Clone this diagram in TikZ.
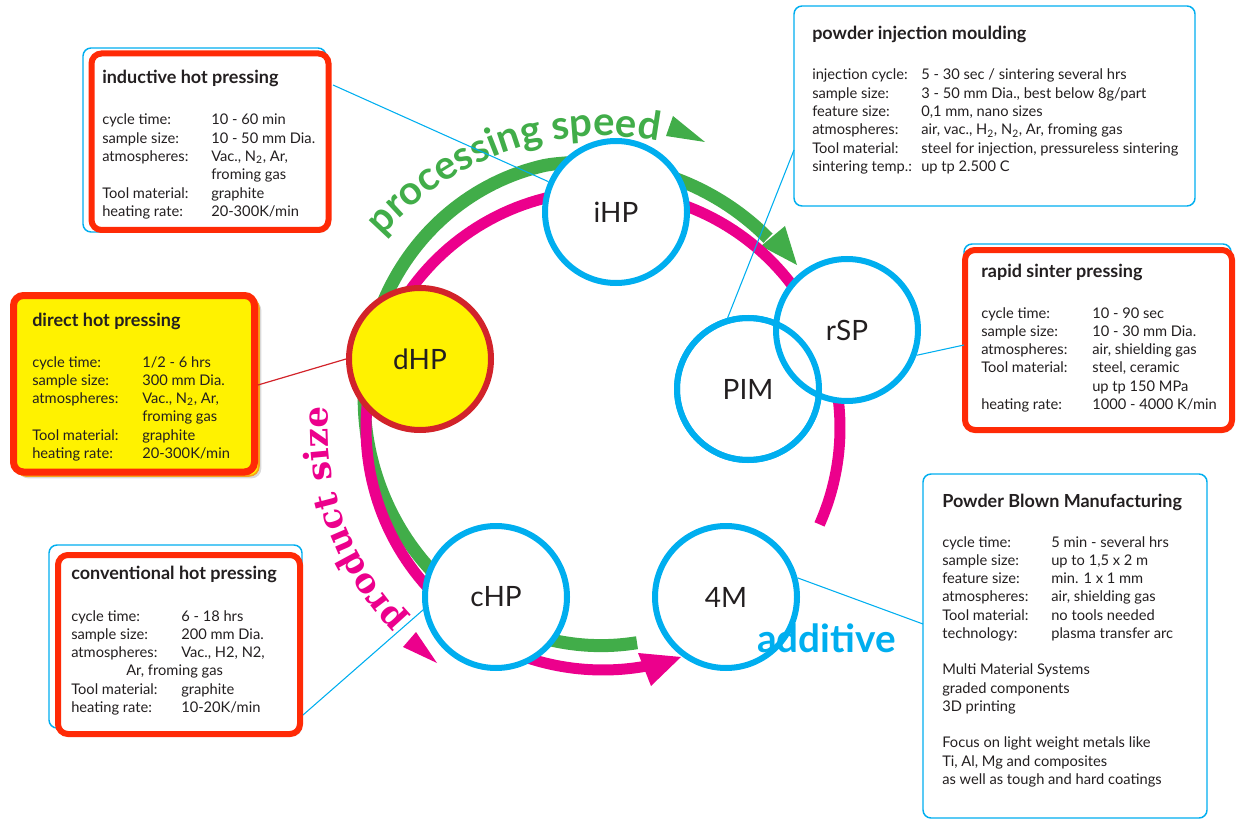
\documentclass[tikz,border=0pt]{standalone}
\usepackage{fontspec}
\setmainfont{Lato}
\newfontfamily\slabfont{DejaVu Serif}
\usetikzlibrary{decorations.text,fit,shadows}
\definecolor{cy}{HTML}{00AEEF}
\definecolor{gr}{HTML}{41AD49}
\definecolor{mg}{HTML}{EC008C}
\definecolor{rd}{HTML}{FF2A06}
\definecolor{drd}{HTML}{D2232A}
\definecolor{yl}{HTML}{FFF200}
\definecolor{ink}{HTML}{231F20}
\definecolor{org}{HTML}{F7A21B}
\begin{document}
\begin{tikzpicture}[x=0.75pt,y=-0.75pt,
  declare function={grr(\t)=(\t<258)*(217+52*exp(-1*((\t-258)/80)*((\t-258)/80))) + (\t>=258)*(269-0.33*(\t-258));},
  proc/.style={circle, draw=cy, line width=4.5pt, fill=white, minimum size=106.5pt, inner sep=0pt, font=\fontsize{21}{25}\selectfont, text=ink},
  redbox/.style={draw=rd, line width=4.5pt, rounded corners=7.5pt, fill=white, inner sep=0pt,
     drop shadow={shadow xshift=1.8pt, shadow yshift=-1.8pt, opacity=.3}},
  cybox/.style={draw=cy, line width=1.1pt, rounded corners=6pt, inner sep=0pt},
  ttl/.style={anchor=base west, inner sep=0pt, font=\bfseries\fontsize{13.5}{16}\selectfont, text=ink},
  tbl/.style={anchor=base west, inner sep=0pt, font=\fontsize{11}{13.7}\selectfont, text=ink},
  link/.style={draw=cy, line width=0.8pt},
  grarc/.style={draw=gr, line width=9.75pt},
  mgarc/.style={draw=mg, line width=8.25pt}]
\useasboundingbox (0,0) rectangle (1239,820);

% ---------- boxes ----------
\node[cybox, fit={(83,48) (326,232)}] (box1b) {};
\node[redbox, fit={(91.5,53.5) (328.5,230)}] (box1) {};
\node[draw=org, line width=1.2pt, rounded corners=7.5pt, fill=yl, inner sep=0pt, fit={(16,298) (259,476)},
     drop shadow={shadow xshift=1.8pt, shadow yshift=-1.8pt, opacity=.3}] (box2b) {};
\node[redbox, fill=yl, line width=5.25pt, drop shadow={opacity=0}, fit={(13.5,295.5) (254.5,472)}] (box2) {};
\node[cybox, fit={(49,545) (302,728)}] (box3b) {};
\node[redbox, fit={(58,555) (300,734)}] (box3) {};
\node[cybox, fit={(794,6) (1195,206)}] (box4) {};
\node[cybox, fit={(964,244) (1231,427)}] (box5b) {};
\node[redbox, fit={(965,250) (1232,430)}] (box5) {};
\node[cybox, fit={(923,474) (1207,818)}] (box6) {};

% ---------- box texts ----------
\node[ttl] (t1) at (102,84) {inductive hot pressing};
\node[tbl] (d1) at (102,125) {\begin{tabular}[t]{@{}p{81.75pt}@{}l@{}}
cycle time: & 10 - 60 min\\
sample size: & 10 - 50 mm Dia.\\
atmospheres: & Vac., N\textsubscript{2}, Ar,\\
 & froming gas\\
Tool material: & graphite\\
heating rate: & 20-300K/min
\end{tabular}};

\node[ttl] (t2) at (32,326) {direct hot pressing};
\node[tbl] (d2) at (32,367) {\begin{tabular}[t]{@{}p{82.5pt}@{}l@{}}
cycle time: & 1/2 - 6 hrs\\
sample size: & 300 mm Dia.\\
atmospheres: & Vac., N\textsubscript{2}, Ar,\\
 & froming gas\\
Tool material: & graphite\\
heating rate: & 20-300K/min
\end{tabular}};

\node[ttl] (t3) at (71,579) {conventional hot pressing};
\node[tbl] (d3) at (71,621) {\begin{tabular}[t]{@{}p{82.5pt}@{}l@{}}
cycle time: & 6 - 18 hrs\\
sample size: & 200 mm Dia.\\
atmospheres: & Vac., H2, N2,\\
\multicolumn{2}{@{\hspace{41.25pt}}l@{}}{Ar, froming gas}\\
Tool material: & graphite\\
heating rate: & 10-20K/min
\end{tabular}};

\node[ttl] (t4) at (812,40) {powder injection moulding};
\node[tbl] (d4) at (812,80) {\begin{tabular}[t]{@{}p{81.75pt}@{}l@{}}
injection cycle: & 5 - 30 sec / sintering several hrs\\
sample size: & 3 - 50 mm Dia., best below 8g/part\\
feature size: & 0,1 mm, nano sizes\\
atmospheres: & air, vac., H\textsubscript{2}, N\textsubscript{2}, Ar, froming gas\\
Tool material: & steel for injection, pressureless sintering\\
sintering temp.: & up tp 2.500 C
\end{tabular}};

\node[ttl] (t5) at (981,277) {rapid sinter pressing};
\node[tbl] (d5) at (981,318) {\begin{tabular}[t]{@{}p{83.25pt}@{}l@{}}
cycle time: & 10 - 90 sec\\
sample size: & 10 - 30 mm Dia.\\
atmospheres: & air, shielding gas\\
Tool material: & steel, ceramic\\
 & up tp 150 MPa\\
heating rate: & 1000 - 4000 K/min
\end{tabular}};

\node[ttl] (t6) at (942,507) {Powder Blown Manufacturing};
\node[tbl] (d6) at (942,547) {\begin{tabular}[t]{@{}p{81.75pt}@{}l@{}}
cycle time: & 5 min - several hrs\\
sample size: & up to 1,5 x 2 m\\
feature size: & min. 1 x 1 mm\\
atmospheres: & air, shielding gas\\
Tool material: & no tools needed\\
technology: & plasma transfer arc\\
\multicolumn{2}{@{}l@{}}{}\\
\multicolumn{2}{@{}l@{}}{Multi Material Systems}\\
\multicolumn{2}{@{}l@{}}{graded components}\\
\multicolumn{2}{@{}l@{}}{3D printing}\\
\multicolumn{2}{@{}l@{}}{}\\
\multicolumn{2}{@{}l@{}}{Focus on light weight metals like}\\
\multicolumn{2}{@{}l@{}}{Ti, Al, Mg and composites}\\
\multicolumn{2}{@{}l@{}}{as well as tough and hard coatings}
\end{tabular}};

% ---------- ring arcs ----------
\draw[grarc] plot[domain=81:311, samples=160] ({603+grr(\x)*cos(\x)},{428+grr(\x)*sin(\x)});
\fill[gr] (761,246) -- (785,226) -- (797,265) -- cycle;
\draw[mgarc] plot[domain=125:335, samples=120] ({603+237*cos(\x)},{428+237*sin(\x)});
\draw[mgarc] plot[domain=340:384, samples=40] ({603+237*cos(\x)},{428+237*sin(\x)});
\draw[mgarc] plot[domain=80:118, samples=30] ({603+242*cos(\x)},{428+242*sin(\x)});
\fill[mg] (638,653) -- (681,657) -- (651,686) -- cycle;

% ---------- curved labels and their arrowheads ----------
\path[decorate, decoration={text along path, text align=center, text color=gr,
   text={|\bfseries\fontsize{30}{36}\selectfont|processing speed}}]
   plot[domain=205:297, samples=120] ({603+292*cos(\x)},{428+292*sin(\x)});
\fill[gr] (666,136) -- (673,116) -- (705,142) -- cycle;
\path[decorate, decoration={text along path, text align=center, text color=mg,
   text={|\slabfont\bfseries\fontsize{25.5}{30}\selectfont|product size}}]
   plot[domain=120:200, samples=120] ({603+275*cos(\x)},{428+275*sin(\x)});
\fill[mg] (403,647) -- (416,632) -- (437,663) -- cycle;

% ---------- process circles ----------
\node[proc] (ihp) at (616,212) {iHP};
\node[proc] (pim) at (748,389) {PIM};
\node[proc] (rsp) at (847,330) {rSP};
\node[proc, fill=none] (pimring) at (pim) {};
\node[proc, fill=yl, draw=drd] (dhp) at (420,359) {dHP};
\node[proc] (chp) at (496,597) {cHP};
\node[proc] (m4) at (726,597) {4M};

\node[anchor=base west, inner sep=0pt, text=cy, font=\bfseries\fontsize{29}{34}\selectfont] (add) at (757,652) {additive};

% ---------- connectors ----------
\coordinate (c1s) at (333,85);
\coordinate (c2s) at (258,385);
\coordinate (c3s) at (303,715);
\coordinate (c4e) at (794,150);
\coordinate (c5e) at (964,345);
\coordinate (c6e) at (923,624);
\draw[link] (c1s) -- (ihp);
\draw[draw=drd, line width=0.9pt] (c2s) -- (dhp.west);
\draw[link] (c3s) -- (chp.190);
\draw[link] (pim.106) -- (c4e);
\draw[link] (rsp.-20) -- (c5e);
\draw[link] (m4.15) -- (c6e);
\end{tikzpicture}
\end{document}
